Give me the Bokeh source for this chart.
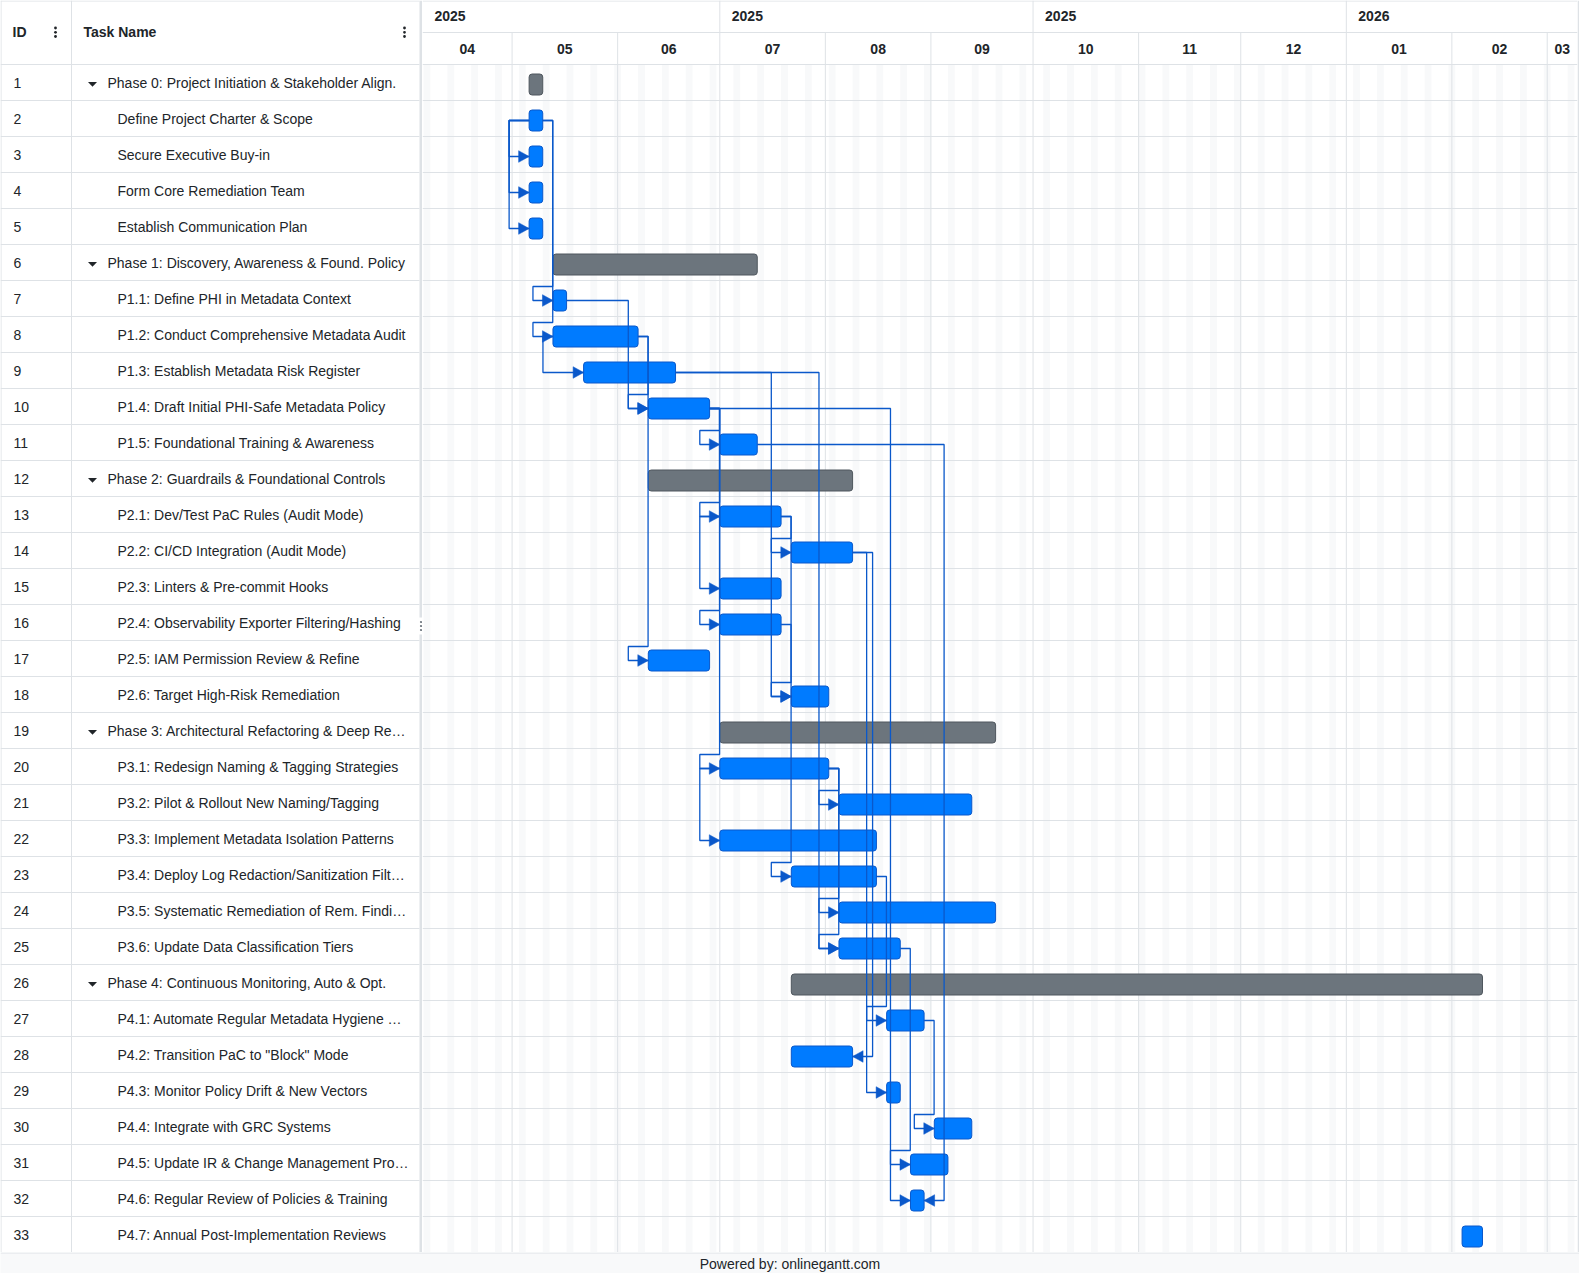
import pandas as pd
from bokeh.plotting import figure
from bokeh.models import Range1d, ColumnDataSource
from bokeh.layouts import row, column
from bokeh.embed import file_html
from bokeh.resources import INLINE
from bokeh.core.properties import value

# ---------------- data ----------------
task_ids = list(range(1, 34))
task_names = [
    "Phase 0: Project Initiation & Stakeholder Align.",
    "Define Project Charter & Scope",
    "Secure Executive Buy-in",
    "Form Core Remediation Team",
    "Establish Communication Plan",
    "Phase 1: Discovery, Awareness & Found. Policy",
    "P1.1: Define PHI in Metadata Context",
    "P1.2: Conduct Comprehensive Metadata Audit",
    "P1.3: Establish Metadata Risk Register",
    "P1.4: Draft Initial PHI-Safe Metadata Policy",
    "P1.5: Foundational Training & Awareness",
    "Phase 2: Guardrails & Foundational Controls",
    "P2.1: Dev/Test PaC Rules (Audit Mode)",
    "P2.2: CI/CD Integration (Audit Mode)",
    "P2.3: Linters & Pre-commit Hooks",
    "P2.4: Observability Exporter Filtering/Hashing",
    "P2.5: IAM Permission Review & Refine",
    "P2.6: Target High-Risk Remediation",
    "Phase 3: Architectural Refactoring & Deep Re\u2026",
    "P3.1: Redesign Naming & Tagging Strategies",
    "P3.2: Pilot & Rollout New Naming/Tagging",
    "P3.3: Implement Metadata Isolation Patterns",
    "P3.4: Deploy Log Redaction/Sanitization Filt\u2026",
    "P3.5: Systematic Remediation of Rem. Findi\u2026",
    "P3.6: Update Data Classification Tiers",
    "Phase 4: Continuous Monitoring, Auto & Opt.",
    "P4.1: Automate Regular Metadata Hygiene \u2026",
    "P4.2: Transition PaC to \"Block\" Mode",
    "P4.3: Monitor Policy Drift & New Vectors",
    "P4.4: Integrate with GRC Systems",
    "P4.5: Update IR & Change Management Pro\u2026",
    "P4.6: Regular Review of Policies & Training",
    "P4.7: Annual Post-Implementation Reviews",
]
phase_ids = [1, 6, 12, 19, 26]
task_start = [
    "2025-05-06", "2025-05-06", "2025-05-06", "2025-05-06", "2025-05-06",
    "2025-05-13", "2025-05-13", "2025-05-13", "2025-05-22", "2025-06-10", "2025-07-01",
    "2025-06-10", "2025-07-01", "2025-07-22", "2025-07-01", "2025-07-01", "2025-06-10", "2025-07-22",
    "2025-07-01", "2025-07-01", "2025-08-05", "2025-07-01", "2025-07-22", "2025-08-05", "2025-08-05",
    "2025-07-22", "2025-08-19", "2025-07-22", "2025-08-19", "2025-09-02", "2025-08-26", "2025-08-26",
    "2026-02-04",
]
task_end = [  # exclusive end
    "2025-05-10", "2025-05-10", "2025-05-10", "2025-05-10", "2025-05-10",
    "2025-07-12", "2025-05-17", "2025-06-07", "2025-06-18", "2025-06-28", "2025-07-12",
    "2025-08-09", "2025-07-19", "2025-08-09", "2025-07-19", "2025-07-19", "2025-06-28", "2025-08-02",
    "2025-09-20", "2025-08-02", "2025-09-13", "2025-08-16", "2025-08-16", "2025-09-20", "2025-08-23",
    "2026-02-10", "2025-08-30", "2025-08-09", "2025-08-23", "2025-09-13", "2025-09-06", "2025-08-30",
    "2026-02-10",
]
link_from = [2, 2, 2, 8, 13, 20,
             2, 2, 7, 8, 8, 9, 9, 10, 10, 10, 10, 10, 13, 13, 16, 20, 20, 20, 14, 23, 25, 27,
             11, 14]
link_to = [3, 4, 5, 9, 15, 22,
           7, 8, 10, 10, 17, 18, 25, 11, 13, 16, 20, 32, 14, 18, 23, 21, 24, 25, 29, 27, 31, 30,
           32, 28]
link_type = ["SS"] * 6 + ["FS"] * 22 + ["FF"] * 2

month_starts = ["2025-04-01", "2025-05-01", "2025-06-01", "2025-07-01", "2025-08-01", "2025-09-01",
                "2025-10-01", "2025-11-01", "2025-12-01", "2026-01-01", "2026-02-01", "2026-03-01",
                "2026-04-01"]
month_labels = ["04", "05", "06", "07", "08", "09", "10", "11", "12", "01", "02", "03"]
quarter_starts = ["2025-04-01", "2025-07-01", "2025-10-01", "2026-01-01"]
year_labels = ["2025", "2025", "2025", "2026"]
view_start = "2025-04-04 16:30"
view_end = "2026-03-09 21:30"

# ---------------- geometry ----------------
TABLE_W = 422
CHART_W = 1155
ROW_H = 36
HEAD_H = 64
N = len(task_ids)
TOTAL_H = HEAD_H + N * ROW_H
FONT = value("Liberation Sans")
TXT = "#212529"
GRID = "#dee2e6"
LINK = "#0a58ca"


def ms(t):
    return pd.Timestamp(t).value / 1e6


vs, ve = ms(view_start), ms(view_end)
PX = (ve - vs) / CHART_W  # ms per pixel


def row_center(i):
    return -(HEAD_H + (i - 0.5) * ROW_H)


def bar_center(i):
    return row_center(i) - 2


S = {i: ms(s) for i, s in zip(task_ids, task_start)}
E = {i: ms(e) for i, e in zip(task_ids, task_end)}


def base_fig(w, h, xr, yr, **kw):
    p = figure(width=w, height=h, x_range=xr, y_range=yr, output_backend="svg",
               toolbar_location=None, min_border_left=0, min_border_right=0,
               min_border_top=0, min_border_bottom=0, outline_line_color=None,
               background_fill_color="white", border_fill_color="white", **kw)
    p.axis.visible = False
    p.grid.visible = False
    return p


# ---------------- gantt chart ----------------
g = base_fig(CHART_W + 2, TOTAL_H, Range1d(vs, ve), Range1d(-TOTAL_H, 0), x_axis_type="datetime")
g.min_border_right = 2
g.border_fill_color = GRID

# weekend stripes
sats = pd.date_range("2025-04-05", "2026-03-14", freq="7D")
g.quad(left=[ms(d) for d in sats], right=[ms(d + pd.Timedelta(days=2)) for d in sats],
       top=-HEAD_H, bottom=-TOTAL_H, fill_color="#f8f9fa", line_color=None)

# month lines and quarter lines
mxs = [ms(m) for m in month_starts[1:-1]]
g.segment(x0=mxs, y0=-HEAD_H / 2, x1=mxs, y1=-TOTAL_H, line_color=GRID, line_width=1)
qxs = [ms(q) for q in quarter_starts[1:]]
g.segment(x0=qxs, y0=0, x1=qxs, y1=-HEAD_H / 2, line_color=GRID, line_width=1)

# horizontal lines
hy = [-0.5, -HEAD_H / 2, -HEAD_H] + [-(HEAD_H + k * ROW_H) for k in range(1, N)]
g.segment(x0=vs, y0=hy, x1=ve, y1=hy, line_color=GRID, line_width=1)

# header labels
mcx = []
for k in range(len(month_labels)):
    a = max(ms(month_starts[k]), vs)
    b = min(ms(month_starts[k + 1]), ve)
    mcx.append((a + b) / 2)
g.text(x=mcx, y=-HEAD_H * 0.75, text=month_labels, text_font=FONT, text_font_size="14px",
       text_font_style="bold", text_color=TXT, text_align="center", text_baseline="middle")
yx = [max(ms(q), vs) + 12 * PX for q in quarter_starts]
g.text(x=yx, y=-15.5, text=year_labels, text_font=FONT, text_font_size="14px",
       text_font_style="bold", text_color=TXT, text_align="left", text_baseline="middle")

# bars
BH = 10.5
bars = ColumnDataSource(dict(
    left=[S[i] for i in task_ids], right=[E[i] for i in task_ids],
    top=[bar_center(i) + BH for i in task_ids], bottom=[bar_center(i) - BH for i in task_ids],
    fill=["#6c757d" if i in phase_ids else "#007bff" for i in task_ids],
    line=["#4f575e" if i in phase_ids else "#0a58ca" for i in task_ids],
))
g.quad(left="left", right="right", top="top", bottom="bottom", source=bars,
       fill_color="fill", line_color="line", line_width=1, border_radius=3)

# links
xs_l, ys_l, ax, ay = [], [], [], []
for s, d, k in zip(link_from, link_to, link_type):
    ys_, yd = bar_center(s), bar_center(d)
    if k == "FS":
        x0, xt = E[s], S[d]
        if x0 + 10 * PX <= xt - 20 * PX:
            xx = [x0, xt - 20 * PX, xt - 20 * PX, xt]
            yy = [ys_, ys_, yd, yd]
        else:
            x1, x2 = x0 + 10 * PX, xt - 20 * PX
            xx = [x0, x1, x1, x2, x2, xt]
            yy = [ys_, ys_, yd + 14, yd + 14, yd, yd]
        ax.append([xt, xt - 10.5 * PX, xt - 10.5 * PX])
    elif k == "SS":
        xv = min(S[s] - 10 * PX, S[d] - 20 * PX)
        xt = S[d]
        xx = [S[s], xv, xv, xt]
        yy = [ys_, ys_, yd, yd]
        ax.append([xt, xt - 10.5 * PX, xt - 10.5 * PX])
    else:
        xv = max(E[s], E[d]) + 20 * PX
        xt = E[d]
        xx = [E[s], xv, xv, xt]
        yy = [ys_, ys_, yd, yd]
        ax.append([xt, xt + 10.5 * PX, xt + 10.5 * PX])
    ay.append([yd, yd + 5.8, yd - 5.8])
    xs_l.append(xx)
    ys_l.append(yy)
g.multi_line(xs=xs_l, ys=ys_l, line_color=LINK, line_width=1.3)
g.patches(xs=ax, ys=ay, fill_color=LINK, line_color=LINK, line_width=0.5)

# ---------------- task table ----------------
t = base_fig(TABLE_W, TOTAL_H, Range1d(0, TABLE_W), Range1d(-TOTAL_H, 0))
ty = [-0.5, -HEAD_H] + [-(HEAD_H + k * ROW_H) for k in range(1, N)]
t.segment(x0=0, y0=ty, x1=419, y1=ty, line_color=GRID, line_width=1)
t.segment(x0=[0.5, 71], y0=0, x1=[0.5, 71], y1=-TOTAL_H, line_color=GRID, line_width=1)
t.quad(left=419, right=422, top=0, bottom=-TOTAL_H, fill_color=GRID, line_color=None)

t.text(x=[12, 83], y=-HEAD_H / 2 + 0.5, text=["ID", "Task Name"], text_font=FONT, text_font_size="14px",
       text_font_style="bold", text_color=TXT, text_baseline="middle")
t.scatter(x=[55, 55, 55, 404, 404, 404], y=[-27.5, -31.8, -36, -27.5, -31.8, -36], size=2.8,
          marker="circle", fill_color=TXT, line_color=None)

t.text(x=13, y=[row_center(i) - 0.5 for i in task_ids], text=[str(i) for i in task_ids],
       text_font=FONT, text_font_size="14px", text_color=TXT, text_baseline="middle")
name_x = [107 if i in phase_ids else 117 for i in task_ids]
t.text(x=name_x, y=[row_center(i) - 0.5 for i in task_ids], text=task_names,
       text_font=FONT, text_font_size="14px", text_color=TXT, text_baseline="middle")
t.patches(xs=[[87.5, 96.5, 92] for _ in phase_ids],
          ys=[[row_center(i) + 0.5, row_center(i) + 0.5, row_center(i) - 4.2] for i in phase_ids],
          fill_color=TXT, line_color=None)
# splitter handle
t.quad(left=418, right=423, top=-617, bottom=-634, fill_color="white", line_color=None)
t.scatter(x=[420.5] * 3, y=[-621.5, -625.5, -629.5], size=2.2, marker="circle",
          fill_color="#6c757d", line_color=None)

# ---------------- footer ----------------
f = base_fig(TABLE_W + CHART_W + 2, 21, Range1d(0, TABLE_W + CHART_W + 2), Range1d(0, 21))
f.background_fill_color = "#f8f9fa"
f.border_fill_color = "#f8f9fa"
f.segment(x0=0, y0=20.5, x1=TABLE_W + CHART_W + 2, y1=20.5, line_color=GRID, line_width=1)
f.text(x=[(TABLE_W + CHART_W + 2) / 2], y=[9.5], text=["Powered by: onlinegantt.com"], text_font=FONT,
       text_font_size="14px", text_color=TXT, text_align="center", text_baseline="middle")

layout = column(row(t, g, spacing=0), f, spacing=0)
open("out.html", "w").write(file_html(layout, INLINE))
